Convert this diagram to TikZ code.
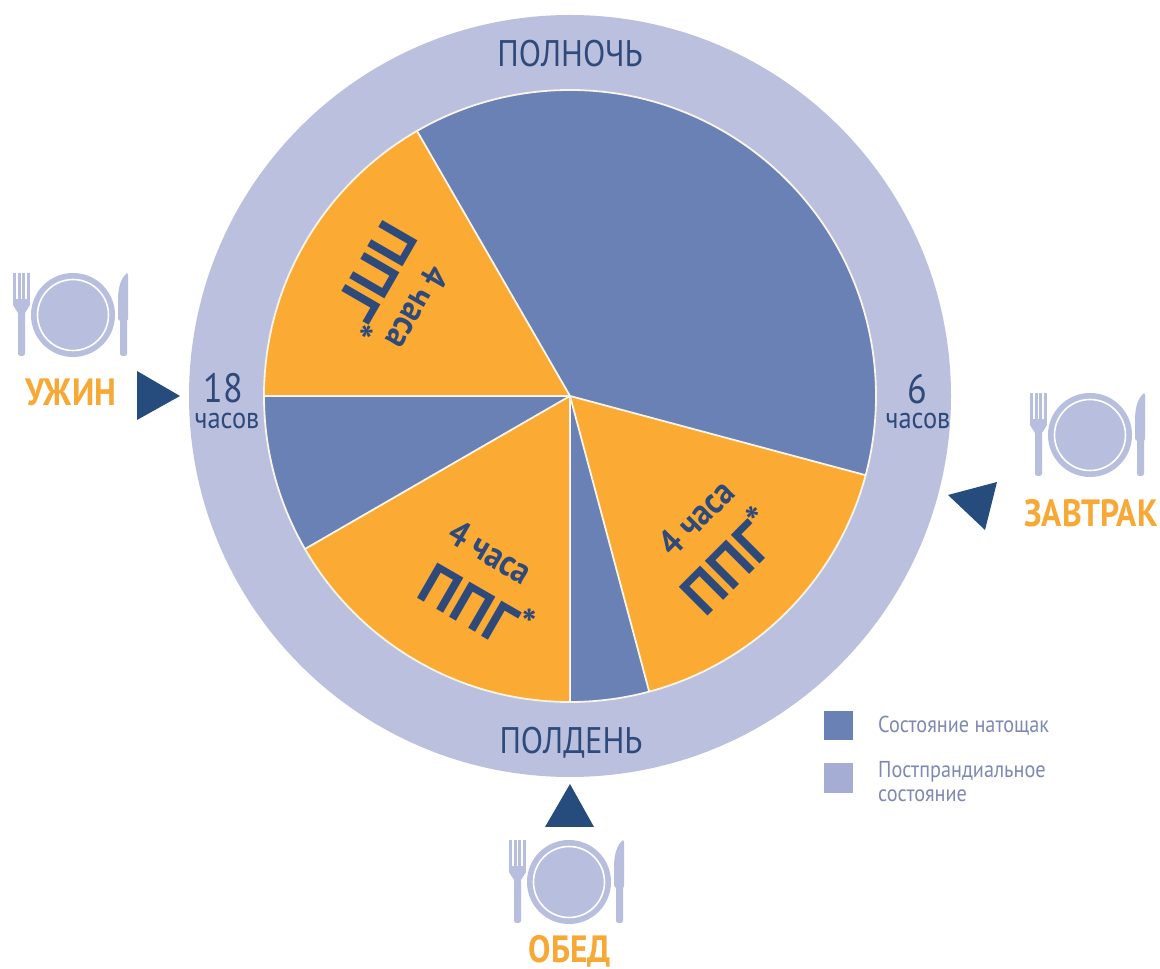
\documentclass[tikz,border=0pt]{standalone}
\usepackage{fontspec}
\setmainfont{PT Sans}[FakeStretch=0.88]
\newfontfamily\ppgfont{PT Sans}
\definecolor{ringc}{HTML}{BBC0DE}
\definecolor{fastc}{HTML}{6981B5}
\definecolor{orc}{HTML}{FBAA33}
\definecolor{navy}{HTML}{2E4A7B}
\definecolor{tric}{HTML}{264B7D}
\definecolor{iconc}{HTML}{B8BEDD}
\definecolor{legc}{HTML}{7F89B2}
\definecolor{lightsq}{HTML}{A5ADD4}
\definecolor{sepc}{HTML}{FBF4E8}
\definecolor{mealc}{HTML}{F8A935}
\newcommand\pieslice[3]{\fill[#1] (C) -- ++(#2:306) arc[start angle=#2, end angle=#3, radius=306] -- cycle;}
\newcommand\tableware[2]{%
  \begin{scope}[shift={(#1,#2)}]
    \fill[iconc] (0,0) circle (42);
    \draw[white, line width=1.6] (0,0) circle (35.5);
    \foreach \i in {0,1,2,3}{\fill[iconc] (-60+\i*4.67,42) rectangle (-57+\i*4.67,14);}
    \fill[iconc] (-60,16) rectangle (-43,10);
    \fill[iconc] (-60,10) -- (-43,10) -- (-48,2) -- (-55,2) -- cycle;
    \fill[iconc, rounded corners=2.5] (-55,4) rectangle (-48,-41);
    \fill[iconc] (54,42) .. controls (47,36) and (45,26) .. (45,14) -- (45,-4) -- (47,-6)
      [rounded corners=2.5] -- (47,-41) -- (54,-41) [sharp corners] -- (54,-6) -- (55,-4) -- (55,40) -- cycle;
  \end{scope}}
\tikzset{
  sep/.style={draw=sepc, line width=1.8},
  clocklbl/.style={text=navy, font=\fontsize{37}{40}\selectfont, inner sep=0},
  hourlbl/.style={text=navy, font=\fontsize{41}{44}\selectfont, inner sep=0},
  hourunit/.style={text=navy, font=\fontsize{30}{32}\selectfont, inner sep=0},
  meal/.style={text=mealc, font=\bfseries\fontsize{38}{40}\selectfont, inner sep=0},
  small4/.style={text=navy, font=\bfseries\fontsize{37}{39}\selectfont, inner sep=0},
  ppg/.style={text=navy, font=\ppgfont\bfseries\fontsize{58}{60}\selectfont, inner sep=0},
  legtxt/.style={text=legc, font=\fontsize{23}{24}\selectfont, inner sep=0, anchor=west, align=left},
  tri/.style={fill=tric}
}
\newcommand\ppgtext{ППГ\raisebox{0.32em}{\fontsize{40}{40}\selectfont*}}
\begin{document}
\begin{tikzpicture}[x=1pt,y=1pt]
\useasboundingbox (0,0) rectangle (1160,969);
\fill[white] (0,0) rectangle (1160,969);
\coordinate (C) at (570,573);
\fill[ringc] (C) circle (381);
% pie
\pieslice{orc}{120}{180}
\pieslice{fastc}{-15}{120}
\pieslice{orc}{-75}{-15}
\pieslice{fastc}{-90}{-75}
\pieslice{orc}{-150}{-90}
\pieslice{fastc}{-180}{-150}
\foreach \a in {180,120,-15,-75,-90,-150} \draw[sep] (C) -- ++(\a:306);
\draw[sep] (C) circle (306);
% slice texts
\node[small4, rotate=-120] (t1a) at ([shift={(150:176)}]C) {4 часа};
\node[ppg, rotate=-120] (t1b) at ([shift={(149:226)}]C) {\ppgtext};
\node[small4, rotate=45] (t2a) at ([shift={(-44:175)}]C) {4 часа};
\node[ppg, rotate=45] (t2b) at ([shift={(-46:229)}]C) {\ppgtext};
\node[small4, rotate=-30] (t3a) at ([shift={(-117:175)}]C) {4 часа};
\node[ppg, rotate=-30] (t3b) at ([shift={(-114:229)}]C) {\ppgtext};
% ring labels
\node[clocklbl] (mid) at (570,915) {ПОЛНОЧЬ};
\node[clocklbl] (noon) at (571,226) {ПОЛДЕНЬ};
\node[hourlbl] (h18) at (223,581) {18};
\node[hourunit] (h18u) at (227,548) {часов};
\node[hourlbl] (h6) at (917,580) {6};
\node[hourunit] (h6u) at (918,548) {часов};
% triangles
\fill[tri] (137,598) -- (137,549) -- (180,573) -- cycle;
\fill[tri] (545,142) -- (594,142) -- (570,185) -- cycle;
\fill[tri] (948,474) -- (997,487) -- (985,439) -- cycle;
% tableware
\tableware{73}{654}
\tableware{1090}{534}
\tableware{569}{87}
\node[meal] (dinner) at (71,577) {УЖИН};
\node[meal] (breakfast) at (1091,456) {ЗАВТРАК};
\node[meal] (lunch) at (570,18) {ОБЕД};
% legend
\fill[fastc] (824,229) rectangle (853,258);
\fill[lightsq] (824,176) rectangle (853,206);
\node[legtxt] (leg1) at (878,243) {Состояние натощак};
\node[legtxt] (leg2) at (878,187) {Постпрандиальное\\состояние};
\end{tikzpicture}
\end{document}
